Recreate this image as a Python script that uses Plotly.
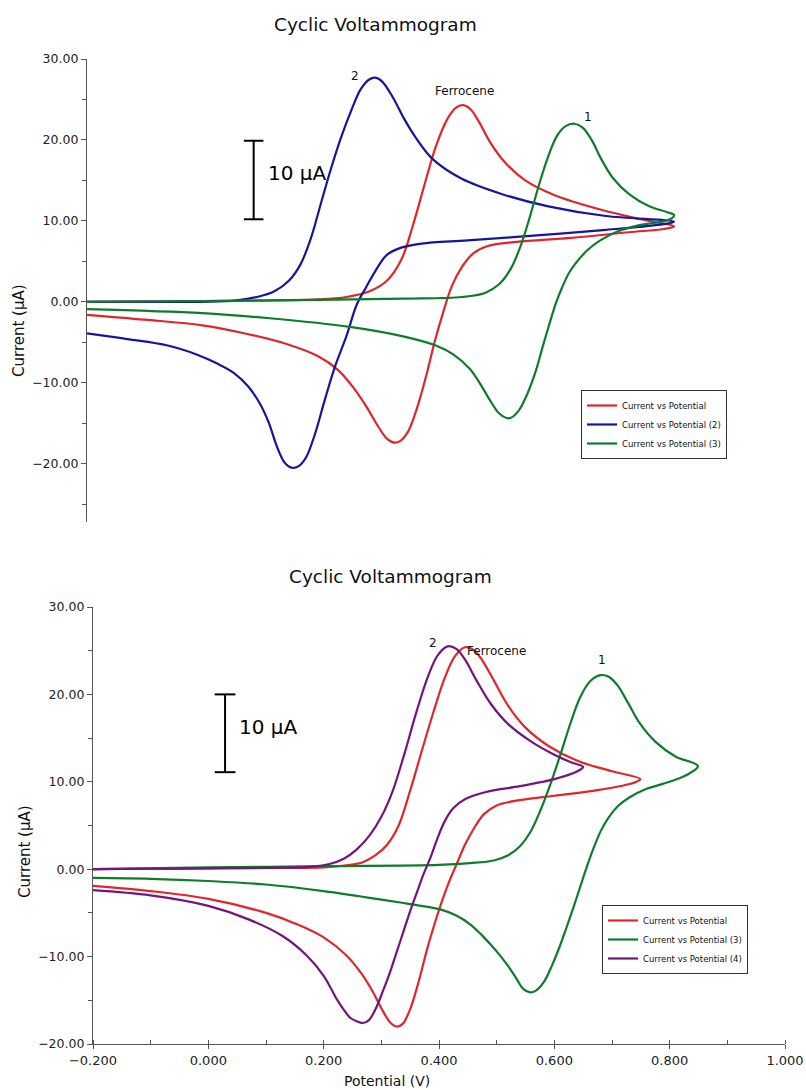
import plotly.graph_objects as go

# ---------------- data ----------------
# Top panel: Ferrocene (red), compound 2 (blue), compound 1 (green)
top_red_fwd_v = [-0.200, -0.050, 0.100, 0.200, 0.250, 0.290, 0.320, 0.345, 0.365, 0.385, 0.405, 0.425, 0.440, 0.452, 0.465, 0.480, 0.500, 0.525, 0.560, 0.610, 0.690, 0.760, 0.818]
top_red_fwd_i = [0.0, 0.05, 0.15, 0.3, 0.6, 1.3, 2.6, 5.2, 9.4, 14.4, 19.2, 22.6, 24.0, 24.3, 23.8, 22.2, 19.6, 17.2, 15.0, 13.2, 11.4, 10.2, 9.3]
top_red_rev_v = [0.800, 0.740, 0.640, 0.545, 0.495, 0.470, 0.450, 0.433, 0.418, 0.403, 0.388, 0.372, 0.357, 0.343, 0.333, 0.320, 0.305, 0.285, 0.262, 0.235, 0.200, 0.150, 0.080, 0.000, -0.100, -0.200]
top_red_rev_i = [9.0, 8.6, 7.9, 7.4, 6.9, 6.0, 4.3, 2.0, -1.2, -4.9, -9.2, -13.2, -16.0, -17.2, -17.4, -16.9, -15.4, -13.0, -10.6, -8.4, -6.7, -5.3, -4.0, -2.9, -2.2, -1.6]

top_blue_fwd_v = [-0.200, -0.050, 0.050, 0.095, 0.125, 0.150, 0.170, 0.188, 0.205, 0.222, 0.240, 0.258, 0.275, 0.290, 0.300, 0.312, 0.330, 0.350, 0.370, 0.400, 0.450, 0.520, 0.600, 0.700, 0.818]
top_blue_fwd_i = [0.0, 0.0, 0.1, 0.6, 1.3, 2.6, 4.6, 7.8, 12.0, 16.2, 20.2, 23.6, 26.3, 27.5, 27.7, 27.2, 25.3, 22.6, 20.3, 17.6, 15.2, 13.3, 11.8, 10.6, 9.9]
top_blue_rev_v = [0.800, 0.700, 0.580, 0.460, 0.380, 0.345, 0.320, 0.300, 0.284, 0.268, 0.250, 0.230, 0.212, 0.195, 0.180, 0.167, 0.155, 0.143, 0.130, 0.115, 0.100, 0.080, 0.055, 0.025, -0.010, -0.060, -0.130, -0.200]
top_blue_rev_i = [9.6, 8.9, 8.2, 7.6, 7.2, 6.7, 5.8, 3.8, 1.8, -0.3, -4.2, -8.0, -12.2, -16.4, -19.2, -20.3, -20.5, -19.9, -18.0, -14.9, -12.6, -10.5, -8.8, -7.6, -6.5, -5.4, -4.6, -3.9]

top_green_fwd_v = [-0.200, 0.000, 0.200, 0.350, 0.450, 0.490, 0.515, 0.535, 0.552, 0.568, 0.584, 0.600, 0.615, 0.630, 0.645, 0.660, 0.675, 0.692, 0.712, 0.740, 0.775, 0.805, 0.818]
top_green_fwd_i = [0.0, 0.1, 0.25, 0.4, 0.6, 1.1, 2.2, 4.1, 6.9, 10.5, 14.5, 18.0, 20.5, 21.7, 22.0, 21.5, 20.0, 17.6, 15.3, 13.3, 11.8, 11.1, 10.7]
top_green_rev_v = [0.808, 0.760, 0.720, 0.690, 0.668, 0.650, 0.636, 0.624, 0.613, 0.602, 0.590, 0.578, 0.564, 0.548, 0.532, 0.515, 0.500, 0.485, 0.464, 0.435, 0.405, 0.350, 0.256, 0.112, 0.000, -0.200]
top_green_rev_i = [10.1, 9.5, 8.7, 7.6, 6.4, 5.0, 3.6, 1.8, -0.2, -2.7, -5.6, -8.6, -11.3, -13.5, -14.4, -13.8, -12.3, -10.5, -8.3, -6.5, -5.4, -4.3, -3.1, -2.0, -1.4, -0.9]

# Bottom panel: Ferrocene (red), compound 1 (green), compound 2 (purple)
bot_red_fwd_v = [-0.200, -0.100, 0.000, 0.100, 0.200, 0.240, 0.268, 0.290, 0.310, 0.330, 0.350, 0.370, 0.390, 0.410, 0.428, 0.445, 0.460, 0.475, 0.495, 0.520, 0.550, 0.590, 0.640, 0.700, 0.749]
bot_red_fwd_i = [0.0, 0.05, 0.1, 0.15, 0.2, 0.45, 0.8, 1.6, 2.8, 5.0, 9.0, 13.5, 17.9, 21.9, 24.4, 25.4, 25.1, 23.9, 21.6, 18.7, 16.2, 14.1, 12.4, 11.2, 10.3]
bot_red_rev_v = [0.738, 0.680, 0.600, 0.540, 0.500, 0.478, 0.460, 0.445, 0.432, 0.419, 0.407, 0.395, 0.380, 0.365, 0.350, 0.337, 0.327, 0.315, 0.300, 0.285, 0.265, 0.240, 0.200, 0.150, 0.100, 0.000, -0.100, -0.200]
bot_red_rev_i = [9.9, 9.1, 8.4, 7.9, 7.3, 6.3, 4.6, 2.8, 0.8, -1.2, -3.3, -5.7, -9.0, -12.8, -16.0, -17.7, -18.0, -17.5, -15.9, -14.0, -11.9, -9.9, -7.8, -6.2, -5.0, -3.4, -2.5, -1.9]

bot_green_fwd_v = [-0.200, 0.000, 0.200, 0.400, 0.454, 0.495, 0.520, 0.540, 0.558, 0.575, 0.592, 0.610, 0.628, 0.645, 0.662, 0.680, 0.695, 0.710, 0.728, 0.748, 0.775, 0.810, 0.849]
bot_green_fwd_i = [0.0, 0.2, 0.35, 0.5, 0.7, 1.0, 1.6, 2.6, 4.2, 6.6, 9.5, 13.0, 16.7, 19.7, 21.5, 22.2, 22.0, 21.0, 19.0, 16.7, 14.6, 12.9, 11.8]
bot_green_rev_v = [0.830, 0.800, 0.760, 0.730, 0.710, 0.694, 0.680, 0.668, 0.656, 0.645, 0.633, 0.621, 0.609, 0.596, 0.582, 0.568, 0.558, 0.546, 0.535, 0.520, 0.500, 0.475, 0.454, 0.430, 0.402, 0.350, 0.303, 0.200, 0.100, 0.000, -0.100, -0.200]
bot_green_rev_i = [10.8, 10.0, 9.2, 8.2, 7.2, 5.9, 4.3, 2.4, 0.2, -2.0, -4.4, -6.7, -8.9, -11.0, -12.9, -13.9, -14.1, -13.7, -12.6, -11.1, -9.4, -7.6, -6.3, -5.3, -4.6, -4.0, -3.5, -2.5, -1.75, -1.35, -1.1, -1.0]

bot_purple_fwd_v = [-0.200, -0.100, 0.000, 0.100, 0.180, 0.210, 0.235, 0.258, 0.280, 0.300, 0.320, 0.340, 0.360, 0.380, 0.398, 0.415, 0.430, 0.445, 0.465, 0.490, 0.520, 0.560, 0.600, 0.630, 0.650]
bot_purple_fwd_i = [0.0, 0.05, 0.1, 0.15, 0.3, 0.6, 1.2, 2.3, 3.9, 6.0, 9.0, 13.2, 17.8, 21.9, 24.5, 25.5, 25.2, 24.0, 21.6, 18.9, 16.6, 14.6, 13.1, 12.2, 11.7]
bot_purple_rev_v = [0.640, 0.600, 0.540, 0.480, 0.445, 0.425, 0.410, 0.396, 0.385, 0.373, 0.362, 0.350, 0.338, 0.327, 0.315, 0.303, 0.290, 0.278, 0.268, 0.257, 0.246, 0.235, 0.223, 0.200, 0.171, 0.130, 0.072, 0.000, -0.100, -0.200]
bot_purple_rev_i = [11.2, 10.3, 9.5, 8.8, 8.0, 7.0, 5.5, 3.3, 1.3, -0.6, -2.6, -4.8, -7.2, -9.4, -11.8, -13.9, -16.0, -17.3, -17.6, -17.4, -17.0, -16.1, -14.9, -12.2, -9.9, -7.7, -5.8, -4.2, -3.0, -2.4]

# legend names
top_names = ["Current vs Potential", "Current vs Potential (2)", "Current vs Potential (3)"]
bot_names = ["Current vs Potential", "Current vs Potential (3)", "Current vs Potential (4)"]

# peak labels (text, potential, current)
top_labels = [("2", 0.264, 27.9), ("Ferrocene", 0.455, 26.1), ("1", 0.668, 22.8)]
bot_labels = [("2", 0.390, 25.9), ("Ferrocene", 0.500, 25.0), ("1", 0.683, 23.9)]

# scale bars: (x, y_low, y_high, cap half-width, label x, label y)
top_scale = (0.089, 10.2, 19.9, 0.017, 0.110, 15.9)
bot_scale = (0.029, 11.1, 20.0, 0.018, 0.049, 16.3)

# axis ticks
y_ticks = [-20, -10, 0, 10, 20, 30]
x_ticks = [-0.2, 0.0, 0.2, 0.4, 0.6, 0.8, 1.0]

# ---------------- styling ----------------
RED = "#e0262b"
BLUE = "#16169a"
GREEN = "#0d7d2c"
PURPLE = "#73157a"
FONT = "DejaVu Sans"
AXC = "#555555"

fig = go.Figure()


def add_cv(v_f, i_f, v_r, i_r, color, name, xa, ya, leg):
    fig.add_trace(go.Scatter(
        x=v_f + v_r, y=i_f + i_r, mode="lines", name=name,
        line=dict(color=color, width=2.2, shape="spline", smoothing=1.0),
        xaxis=xa, yaxis=ya, legend=leg, hoverinfo="skip"))


add_cv(top_red_fwd_v, top_red_fwd_i, top_red_rev_v, top_red_rev_i, RED, top_names[0], "x", "y", "legend")
add_cv(top_blue_fwd_v, top_blue_fwd_i, top_blue_rev_v, top_blue_rev_i, BLUE, top_names[1], "x", "y", "legend")
add_cv(top_green_fwd_v, top_green_fwd_i, top_green_rev_v, top_green_rev_i, GREEN, top_names[2], "x", "y", "legend")

add_cv(bot_red_fwd_v, bot_red_fwd_i, bot_red_rev_v, bot_red_rev_i, RED, bot_names[0], "x2", "y2", "legend2")
add_cv(bot_green_fwd_v, bot_green_fwd_i, bot_green_rev_v, bot_green_rev_i, GREEN, bot_names[1], "x2", "y2", "legend2")
add_cv(bot_purple_fwd_v, bot_purple_fwd_i, bot_purple_rev_v, bot_purple_rev_i, PURPLE, bot_names[2], "x2", "y2", "legend2")


def add_scale(sc, xa, ya):
    x, y0, y1, hw, lx, ly = sc
    fig.add_trace(go.Scatter(
        x=[x, x, None, x - hw, x + hw, None, x - hw, x + hw],
        y=[y0, y1, None, y1, y1, None, y0, y0],
        mode="lines", line=dict(color="black", width=2),
        showlegend=False, xaxis=xa, yaxis=ya, hoverinfo="skip"))
    fig.add_annotation(x=lx, y=ly, xref=xa, yref=ya, text="10 μA", showarrow=False,
                       xanchor="left", yanchor="middle",
                       font=dict(family=FONT, size=20, color="black"))


add_scale(top_scale, "x", "y")
add_scale(bot_scale, "x2", "y2")

for t, x, y in top_labels:
    fig.add_annotation(x=x, y=y, xref="x", yref="y", text=t, showarrow=False,
                       font=dict(family=FONT, size=12, color="#111"))
for t, x, y in bot_labels:
    fig.add_annotation(x=x, y=y, xref="x2", yref="y2", text=t, showarrow=False,
                       font=dict(family=FONT, size=12, color="#111"))

W, H = 806, 1090

# titles and axis titles as paper annotations
fig.add_annotation(x=375 / W, y=1 - 25 / H, xref="paper", yref="paper", text="Cyclic Voltammogram",
                   showarrow=False, yanchor="middle", font=dict(family=FONT, size=18.5, color="#111"))
fig.add_annotation(x=390 / W, y=1 - 576 / H, xref="paper", yref="paper", text="Cyclic Voltammogram",
                   showarrow=False, yanchor="middle", font=dict(family=FONT, size=18.5, color="#111"))
fig.add_annotation(x=19 / W, y=1 - 331 / H, xref="paper", yref="paper", text="Current (μA)",
                   textangle=-90, showarrow=False, xanchor="center", yanchor="middle",
                   font=dict(family=FONT, size=15, color="#111"))
fig.add_annotation(x=25 / W, y=1 - 852 / H, xref="paper", yref="paper", text="Current (μA)",
                   textangle=-90, showarrow=False, xanchor="center", yanchor="middle",
                   font=dict(family=FONT, size=15, color="#111"))
fig.add_annotation(x=387 / W, y=1 - 1081 / H, xref="paper", yref="paper", text="Potential (V)",
                   showarrow=False, yanchor="middle", font=dict(family=FONT, size=14, color="#111"))

yaxis_common = dict(
    showline=True, linecolor=AXC, linewidth=1.2, ticks="outside", ticklen=5, tickcolor=AXC,
    tickvals=y_ticks, tickformat=".2f", showgrid=False, zeroline=False, automargin=False,
    tickfont=dict(family=FONT, size=12.5, color="#222"),
    minor=dict(dtick=5, ticks="outside", ticklen=4, tickcolor=AXC, showgrid=False),
)

fig.update_layout(
    width=W, height=H, autosize=False, margin=dict(l=0, r=0, t=0, b=0, pad=0, autoexpand=False),
    paper_bgcolor="white", plot_bgcolor="white",
    font=dict(family=FONT),
    xaxis=dict(domain=[87 / W, 779 / W], range=[-0.2, 1.0], visible=False, anchor="y", automargin=False),
    yaxis=dict(domain=[1 - 522 / H, 1 - 59 / H], range=[-27.2, 30], anchor="x", **yaxis_common),
    xaxis2=dict(domain=[93 / W, 785 / W], range=[-0.2, 1.0], anchor="y2", automargin=False,
                showline=True, linecolor=AXC, linewidth=1.2, ticks="outside", ticklen=4, tickcolor=AXC,
                tickvals=x_ticks, tickformat=".3f", showgrid=False, zeroline=False,
                tickfont=dict(family=FONT, size=13, color="#222"),
                minor=dict(dtick=0.1, ticks="inside", ticklen=4, tickcolor=AXC, showgrid=False)),
    yaxis2=dict(domain=[1 - 1044 / H, 1 - 607 / H], range=[-20, 30], anchor="x2", **yaxis_common),
    legend=dict(x=581 / W, y=1 - 390 / H, xanchor="left", yanchor="top",
                bgcolor="white", bordercolor="#333", borderwidth=1,
                font=dict(family=FONT, size=8.5, color="#111"), tracegroupgap=0, itemwidth=30),
    legend2=dict(x=602 / W, y=1 - 905 / H, xanchor="left", yanchor="top",
                 bgcolor="white", bordercolor="#333", borderwidth=1,
                 font=dict(family=FONT, size=8.5, color="#111"), tracegroupgap=0, itemwidth=30),
    showlegend=True,
)

fig.write_html("out.html", config={"displayModeBar": False},
               post_script="document.body.style.margin='0px';document.body.style.overflow='hidden';")
